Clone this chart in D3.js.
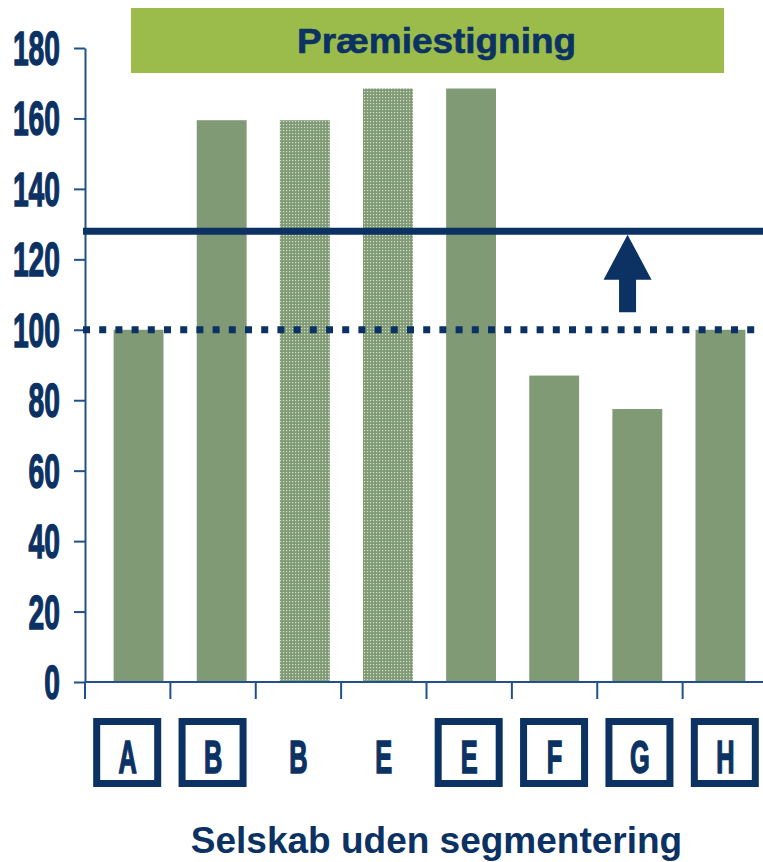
<!DOCTYPE html>
<html>
<head>
<meta charset="utf-8">
<script src="https://cdn.jsdelivr.net/npm/d3@7"></script>
<style>
  html, body { margin: 0; padding: 0; background: #fff; }
  svg { display: block; }
</style>
</head>
<body>
<svg id="chart" width="763" height="862"></svg>
<script>
// Companies and their premium index
const categories = ["A", "B", "B", "E", "E", "F", "G", "H"];
const values = [100, 159.5, 159.5, 168.5, 168.5, 87, 77.5, 100];
const hatched = [false, false, true, true, false, false, false, false];
const boxed = [true, true, false, false, true, true, true, true];
const yTicks = [0, 20, 40, 60, 80, 100, 120, 140, 160, 180];
const baseLevel = 100;
const newLevel = 128;
const arrowFrom = 105;
const arrowTo = 127;
const title = "Præmiestigning";
const xTitle = "Selskab uden segmentering";

const navy = "#0b3263";
const axisCol = "#22508a";
const barCol = "#7f9a74";
const bannerCol = "#9bbc4a";
const narrow = "'Liberation Sans Narrow','Arial Narrow','Liberation Sans',Arial,sans-serif";
const wide = "'Liberation Sans',Arial,Helvetica,sans-serif";

const svg = d3.select("#chart");
const idx = d3.range(categories.length);

// scales
const y = d3.scaleLinear().domain([0, 180]).range([682, 48]);
const xCat = d3.scaleBand().domain(idx).range([85, 768]);
const xBar = d3.scaleBand().domain(idx).range([97, 762]).paddingInner(0.4).paddingOuter(0.2);

// dotted texture for the segmented bars
const defs = svg.append("defs");
const pat = defs.append("pattern").attr("id", "dots")
  .attr("patternUnits", "userSpaceOnUse").attr("width", 3).attr("height", 3);
pat.append("rect").attr("width", 3).attr("height", 3).attr("fill", "#7f9a74");
pat.append("rect").attr("x", 1).attr("y", 1).attr("width", 1.2).attr("height", 1.2).attr("fill", "#d4dfcc");

// helper for condensed labels: squeeze glyphs horizontally to a target width
function squeezeFactor(sample, size, targetW) {
  const t = svg.append("text").attr("font-family", narrow).attr("font-weight", "bold")
    .attr("font-size", size).text(sample);
  const w = t.node().getComputedTextLength();
  t.remove();
  return targetW / w;
}
const digitSx = squeezeFactor("0", 48, 15.7);
const letterSx = squeezeFactor("B", 46, 18.3);

// title banner
const banner = svg.append("g");
banner.append("rect").attr("x", 131).attr("y", 8).attr("width", 593).attr("height", 65).attr("fill", bannerCol);
banner.append("text").attr("x", 436.5).attr("y", 52.5).attr("text-anchor", "middle")
  .attr("font-family", wide).attr("font-weight", "bold").attr("font-size", 35)
  .attr("textLength", 279).attr("lengthAdjust", "spacingAndGlyphs")
  .attr("fill", navy).attr("stroke", navy).attr("stroke-width", 0.6).text(title);

// bars
svg.append("g").selectAll("rect").data(idx).join("rect")
  .attr("x", i => xBar(i))
  .attr("width", xBar.bandwidth())
  .attr("y", i => y(values[i]))
  .attr("height", i => y(0) - y(values[i]))
  .attr("fill", i => hatched[i] ? "url(#dots)" : barCol);

// y axis
const yAxis = svg.append("g").attr("transform", "translate(85,0)")
  .call(d3.axisLeft(y).tickValues(yTicks).tickSize(11).tickSizeOuter(0).tickFormat(""));
yAxis.select(".domain").attr("stroke", axisCol).attr("stroke-width", 2);
yAxis.selectAll(".tick line").attr("stroke", axisCol).attr("stroke-width", 2);

svg.append("g").selectAll("text").data(yTicks).join("text")
  .attr("transform", d => `translate(60,${y(d) + 17}) scale(${digitSx},1)`)
  .attr("text-anchor", "end")
  .attr("font-family", narrow).attr("font-weight", "bold").attr("font-size", 48)
  .attr("fill", navy).attr("stroke", navy).attr("stroke-width", 1.4).text(d => d);

// x axis baseline with ticks at category boundaries
svg.append("line").attr("x1", 85).attr("x2", 763).attr("y1", y(0)).attr("y2", y(0))
  .attr("stroke", axisCol).attr("stroke-width", 2);
svg.append("g").selectAll("line").data(idx).join("line")
  .attr("x1", i => xCat(i)).attr("x2", i => xCat(i))
  .attr("y1", y(0)).attr("y2", y(0) + 17)
  .attr("stroke", axisCol).attr("stroke-width", 2);

// category labels, boxed for companies without segmentation
const lab = svg.append("g");
lab.selectAll("rect").data(idx.filter(i => boxed[i])).join("rect")
  .attr("x", i => xCat(i) + xCat.bandwidth() / 2 - 31)
  .attr("y", 721.5)
  .attr("width", 61).attr("height", 62)
  .attr("fill", "none").attr("stroke", navy).attr("stroke-width", 7);
lab.selectAll("text").data(idx).join("text")
  .attr("transform", i => `translate(${xCat(i) + xCat.bandwidth() / 2},772.5) scale(${letterSx},1)`)
  .attr("text-anchor", "middle")
  .attr("font-family", narrow).attr("font-weight", "bold").attr("font-size", 46)
  .attr("fill", navy).attr("stroke", navy).attr("stroke-width", 1.6).text(i => categories[i]);

// reference levels
svg.append("line").attr("x1", 83).attr("x2", 763).attr("y1", y(newLevel)).attr("y2", y(newLevel))
  .attr("stroke", navy).attr("stroke-width", 7);
svg.append("line").attr("x1", 83).attr("x2", 763).attr("y1", y(baseLevel)).attr("y2", y(baseLevel))
  .attr("stroke", navy).attr("stroke-width", 7).attr("stroke-dasharray", "7 9.2");

// upward arrow between the two levels
const ax = xCat(6) + xCat.bandwidth() * 0.355;
const headBase = y(arrowTo) + 45;
const arrowPts = [
  [ax - 8.5, y(arrowFrom)], [ax - 8.5, headBase], [ax - 24, headBase],
  [ax, y(arrowTo)], [ax + 24, headBase], [ax + 8.5, headBase], [ax + 8.5, y(arrowFrom)]
];
svg.append("path").attr("d", d3.line()(arrowPts) + "Z").attr("fill", navy);

// x title
svg.append("text").attr("x", 436.5).attr("y", 853).attr("text-anchor", "middle")
  .attr("font-family", wide).attr("font-weight", "bold").attr("font-size", 37)
  .attr("fill", navy).text(xTitle);
</script>
</body>
</html>
